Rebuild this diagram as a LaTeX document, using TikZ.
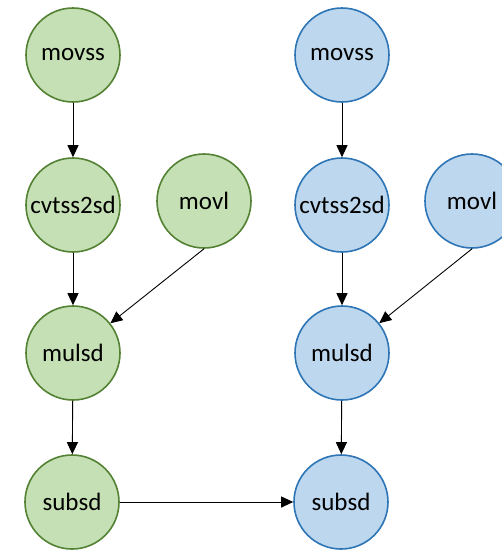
\documentclass[tikz,border=0pt]{standalone}
\usepackage{fontspec}
\setmainfont{Carlito}
\usetikzlibrary{arrows.meta}
\definecolor{gfill}{HTML}{C5E0B4}
\definecolor{gline}{HTML}{548235}
\definecolor{bfill}{HTML}{BDD7EE}
\definecolor{bline}{HTML}{2E75B6}
\tikzset{
  op/.style={circle, minimum size=94pt, inner sep=0pt, line width=1.6pt,
    font=\fontsize{25}{30}\selectfont},
  greenop/.style={op, draw=gline, fill=gfill},
  blueop/.style={op, draw=bline, fill=bfill},
  flow/.style={-{Triangle[length=12pt,width=11pt]}, line width=0.9pt, black}
}
\begin{document}
\begin{tikzpicture}[x=1pt, y=-1pt]
\useasboundingbox (0,0) rectangle (502,550);
\clip (0,0) rectangle (502,550);
% left graph
\node[greenop] (gmovss) at (73,55)  {movss};
\node[greenop] (gcvt)   at (73,205) {cvtss2sd};
\node[greenop] (gmovl)  at (204,201) {movl};
\node[greenop] (gmul)   at (73,353) {mulsd};
\node[greenop] (gsub)   at (72,502) {subsd};
% right graph
\node[blueop] (bmovss) at (342,55)  {movss};
\node[blueop] (bcvt)   at (342,205) {cvtss2sd};
\node[blueop] (bmovl)  at (472,201) {movl};
\node[blueop] (bmul)   at (342,353) {mulsd};
\node[blueop] (bsub)   at (341,502) {subsd};
% dependencies
\draw[flow] (gmovss) -- (gcvt);
\draw[flow] (gcvt) -- (gmul);
\draw[flow] (gmovl.south) -- (gmul);
\draw[flow] (gmul) -- (gsub);
\draw[flow] (bmovss) -- (bcvt);
\draw[flow] (bcvt) -- (bmul);
\draw[flow] (bmovl.south) -- (bmul);
\draw[flow] (bmul) -- (bsub);
\draw[flow] (gsub) -- (bsub);
\end{tikzpicture}
\end{document}
